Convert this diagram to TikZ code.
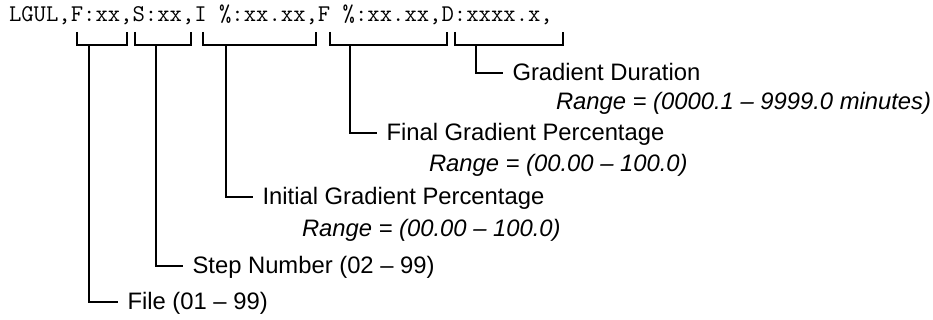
\documentclass[tikz,border=0pt]{standalone}
\usepackage{fontspec}
\setmainfont{Liberation Sans}
\usepackage{tikz}
\usetikzlibrary{positioning}

\begin{document}
\begin{tikzpicture}[
    x=0.75pt,
    y=-0.75pt,
    line width=1.5pt,
    lbl/.style={anchor=west, inner xsep=6.4pt, inner ysep=0pt, text height=11.25pt, text depth=0pt, font=\fontsize{17.85}{20}\selectfont},
    rng/.style={anchor=base west, inner sep=0pt, font=\fontsize{17.85}{20}\selectfont\itshape}
]
\useasboundingbox (0,0) rectangle (933,320);

% Command line
\node[anchor=base west, inner sep=0pt, font=\ttfamily\fontsize{18}{20}\selectfont] (cmd) at (8,22)
  {LGUL,F:xx,S:xx,I \%:xx.xx,F \%:xx.xx,D:xxxx.x,};

% Brackets under the fields
\foreach \a/\b/\s/\n in {77/127/89/sfile,135/191/156/sstep,203/316/226/sinit,330/447/350/sfin,455/563/476/sdur} {
  \draw (\a,32) |- (\b,45) -- (\b,32);
  \coordinate (\n) at (\s,45);
}

\node[lbl] (gdur) at (503,73) {Gradient Duration};
\node[rng] (gdurrng) at (555,110) {Range = (0000.1 \textendash{} 9999.0 minutes)};

\node[lbl] (gfin) at (377,133) {Final Gradient Percentage};
\node[rng] (gfinrng) at (428,172) {Range = (00.00 \textendash{} 100.0)};

\node[lbl] (ginit) at (253,197) {Initial Gradient Percentage};
\node[rng] (ginitrng) at (301,237) {Range = (00.00 \textendash{} 100.0)};

\node[lbl] (stepno) at (183,266) {Step Number (02 \textendash{} 99)};

\node[lbl] (fileno) at (118,302) {File (01 \textendash{} 99)};

% Connectors
\draw (sdur) |- (gdur);
\draw (sfin) |- (gfin);
\draw (sinit) |- (ginit);
\draw (sstep) |- (stepno);
\draw (sfile) |- (fileno);
\end{tikzpicture}
\end{document}
